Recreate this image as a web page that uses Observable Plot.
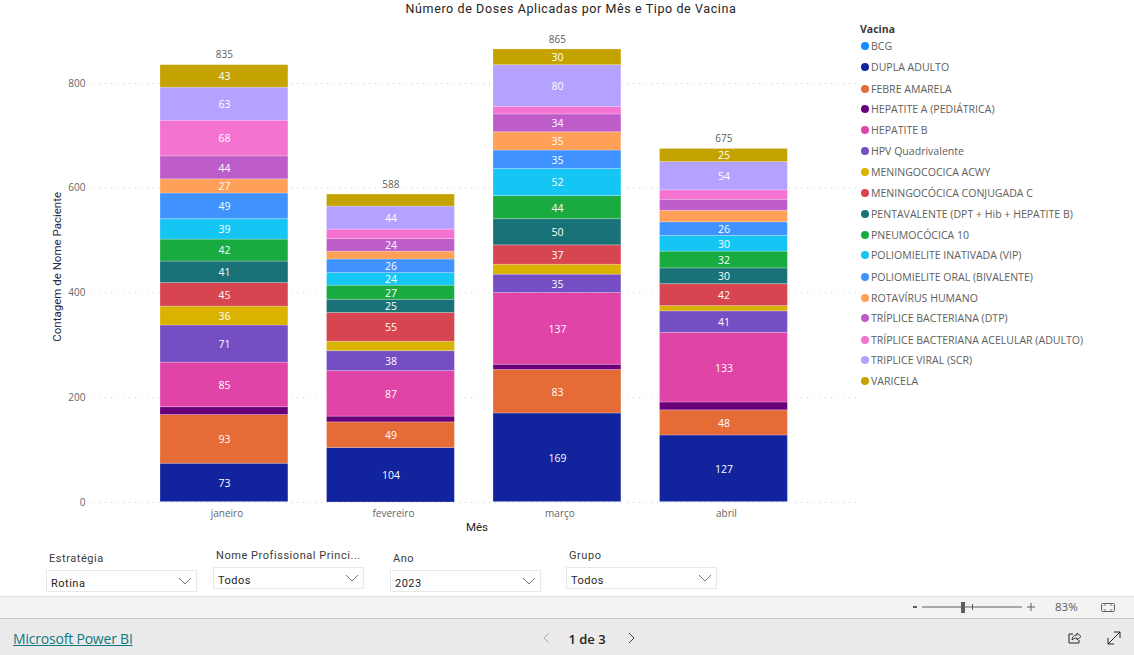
<!DOCTYPE html>
<html lang="pt">
<head>
<meta charset="utf-8">
<script src="https://cdn.jsdelivr.net/npm/d3@7"></script>
<script src="https://cdn.jsdelivr.net/npm/@observablehq/plot@0.6"></script>
<style>
html,body{margin:0;padding:0;background:#fff;width:1134px;height:655px;overflow:hidden;font-family:"Open Sans",sans-serif}
#root{position:relative;width:1134px;height:655px;overflow:hidden}
#root svg{position:absolute}
.abs{position:absolute;white-space:nowrap}
.din{font-family:Roboto,sans-serif;letter-spacing:.6px}
#title{left:0;width:1142px;text-align:center;top:1px;font-size:12.5px;line-height:16px;color:#252423}
.lg{left:871px;font-size:10.55px;line-height:14px;color:#605e5c}
.dot{position:absolute;width:8px;height:8px;border-radius:50%}
.slab{font-size:11px;line-height:14px;color:#3b3a39;letter-spacing:.55px}
.box{position:absolute;width:149px;height:20px;border:1px solid #e8e8e8;background:#fff;font-size:11px;line-height:26px;color:#252423;padding-left:0;letter-spacing:.5px}
.box span{position:absolute;left:4px;top:0}
.box svg{right:4px;top:6px}
#bar1{left:0;top:596px;width:1134px;height:21px;background:#f3f3f3;border-top:1px solid #e0e0e0;border-bottom:1px solid #c8c8c8}
#bar2{left:0;top:619px;width:1134px;height:36px;background:#eaeaea}
#link{left:13px;top:630px;font-size:14px;line-height:18px;font-weight:500;color:#117a80;text-decoration:underline;font-family:"Open Sans",sans-serif;letter-spacing:-.2px}
#page{left:547px;width:80px;text-align:center;top:630px;font-size:13px;line-height:18px;font-weight:600;color:#252423}
#pct{left:1055px;top:600px;font-size:11.5px;line-height:14px;color:#605e5c}
</style>
</head>
<body>
<div id="root"></div>
<script>
const months = ["janeiro", "fevereiro", "março", "abril"];
const totals = [835, 588, 865, 675];
const vaccines = ["BCG", "DUPLA ADULTO", "FEBRE AMARELA", "HEPATITE A (PEDIÁTRICA)", "HEPATITE B", "HPV Quadrivalente", "MENINGOCOCICA ACWY", "MENINGOCÓCICA CONJUGADA C", "PENTAVALENTE (DPT + Hib + HEPATITE B)", "PNEUMOCÓCICA 10", "POLIOMIELITE INATIVADA (VIP)", "POLIOMIELITE ORAL (BIVALENTE)", "ROTAVÍRUS HUMANO", "TRÍPLICE BACTERIANA (DTP)", "TRÍPLICE BACTERIANA ACELULAR (ADULTO)", "TRIPLICE VIRAL (SCR)", "VARICELA"];
const colors = ["#118dff", "#12239e", "#e66c37", "#6b007b", "#e044a7", "#744ec2", "#d9b300", "#d64550", "#197278", "#1aab40", "#15c6f4", "#4092ff", "#ffa058", "#be5dc9", "#f472d0", "#b5a1ff", "#c4a200"];
const bcg = [1, 0, 1, 1];
const duplaAdulto = [73, 104, 169, 127];
const febreAmarela = [93, 49, 83, 48];
const hepatiteA = [15, 11, 10, 15];
const hepatiteB = [85, 87, 137, 133];
const hpv = [71, 38, 35, 41];
const meningoAcwy = [36, 18, 19, 10];
const meningoC = [45, 55, 37, 42];
const pentavalente = [41, 25, 50, 30];
const pneumo10 = [42, 27, 44, 32];
const polioVip = [39, 24, 52, 30];
const polioOral = [49, 26, 35, 26];
const rotavirus = [27, 15, 35, 22];
const dtp = [44, 24, 34, 21];
const dtpa = [68, 18, 14, 18];
const scr = [63, 44, 80, 54];
const varicela = [43, 23, 30, 25];
const series = [bcg, duplaAdulto, febreAmarela, hepatiteA, hepatiteB, hpv, meningoAcwy, meningoC, pentavalente, pneumo10, polioVip, polioOral, rotavirus, dtp, dtpa, scr, varicela];
const yTicks = [0, 200, 400, 600, 800];
const labelMin = 24;

const rows = vaccines.flatMap((vacina, i) => months.map((mes, m) => ({mes, vacina, n: series[i][m]})));
const totalRows = months.map((mes, m) => ({mes, total: totals[m]}));

const chart = Plot.plot({
  width: 1134, height: 545,
  marginLeft: 93, marginRight: 276, marginTop: 40, marginBottom: 43,
  style: {fontFamily: '"Open Sans",sans-serif', background: "transparent", position: "absolute", left: 0, top: 0, overflow: "visible"},
  x: {type: "band", domain: months, range: [140.7, 806.7], paddingInner: 0.232, paddingOuter: 0.116, round: false},
  y: {domain: [0, 800], range: [502, 83]},
  color: {domain: vaccines, range: colors},
  marks: [
    Plot.ruleY(yTicks, {stroke: "#d0d0d0", strokeDasharray: "1 5", strokeWidth: 1}),
    Plot.barY(rows, Plot.stackY({x: "mes", y: "n", z: "vacina", fill: "vacina", order: vaccines, stroke: "#fff", strokeOpacity: 0.22, strokeWidth: 1})),
    Plot.text(rows, Plot.stackY({x: "mes", y: "n", z: "vacina", order: vaccines, text: d => d.n >= labelMin ? String(d.n) : "", fill: "#fff", fontSize: 10.5, fontWeight: 500, dy: 0.5})),
    Plot.text(totalRows, {x: "mes", y: "total", text: d => String(d.total), dy: -10, fill: "#605e5c", fontSize: 10}),
    Plot.axisY({ticks: yTicks, tickSize: 0, tickPadding: 0, dx: -8, fontSize: 10, color: "#666", label: null, tickFormat: d => String(d)}),
    Plot.axisX({tickSize: 0, tickPadding: 0, dy: 7, dx: 2.5, fontSize: 10, color: "#666", label: null}),
    Plot.text(["Contagem de Nome Paciente"], {frameAnchor: "left", dx: -36, y: 450, rotate: -90, fontSize: 11.5, fill: "#252a4a", fontFamily: "Roboto,sans-serif", textAnchor: "middle"}),
    Plot.text(["Mês"], {frameAnchor: "bottom", dy: 28, dx: 1, fontSize: 11.5, fill: "#252423", fontFamily: "Roboto,sans-serif"})
  ]
});

const root = document.getElementById("root");
root.appendChild(chart);

function el(cls, text, css) {
  const d = document.createElement("div");
  d.className = cls;
  if (text != null) d.textContent = text;
  Object.assign(d.style, css || {});
  root.appendChild(d);
  return d;
}
el("abs din", "Número de Doses Aplicadas por Mês e Tipo de Vacina", {}).id = "title";
el("abs", "Vacina", {left: "860px", top: "22px", fontSize: "10.5px", lineHeight: "14px", fontWeight: "700", color: "#3b3a39"});
const legendRowCentres = [46, 67, 89, 109, 130, 151, 172, 193, 214, 235, 255, 277, 298, 318, 340, 360, 381];
vaccines.forEach((v, i) => {
  const c = legendRowCentres[i];
  el("abs lg", v, {top: (c - 7) + "px"});
  el("dot", null, {left: "861px", top: (c - 4) + "px", background: colors[i]});
});

const chevron = '<svg width="14" height="8" viewBox="0 0 14 8"><path d="M1 1l6 6 6-6" fill="none" stroke="#777" stroke-width="1"/></svg>';
const slicers = [
  ["Estratégia", "Rotina", 46, 570, 49, 552],
  ["Nome Profissional Princi...", "Todos", 213, 567, 216, 549],
  ["Ano", "2023", 390, 570, 393, 552],
  ["Grupo", "Todos", 566, 567, 569, 549]
];
slicers.forEach(([lab, val, bx, by, lx, ly]) => {
  el("abs din slab", lab, {left: lx + "px", top: ly + "px"});
  const b = el("box din", null, {left: bx + "px", top: by + "px"});
  b.innerHTML = "<span>" + val + "</span>" + chevron;
});

el("abs", null, {}).id = "bar1";
el("abs", null, {}).id = "bar2";
el("abs", "Microsoft Power BI", {}).id = "link";
el("abs", "1 de 3", {}).id = "page";
el("abs", "83%", {}).id = "pct";

const chrome = document.createElementNS("http://www.w3.org/2000/svg", "svg");
chrome.setAttribute("width", 1134); chrome.setAttribute("height", 655);
chrome.style.cssText = "left:0;top:0;pointer-events:none";
chrome.innerHTML = `
<path d="M913 607h4" stroke="#605e5c" stroke-width="2"/>
<path d="M922 607h100" stroke="#605e5c"/>
<path d="M972.5 604v6" stroke="#605e5c"/>
<rect x="961" y="602" width="4" height="11" fill="#605e5c"/>
<path d="M1027 607h8M1031 603v8" stroke="#605e5c"/>
<rect x="1101.5" y="603.5" width="13" height="8" rx="1" fill="none" stroke="#605e5c"/>
<path d="M1104 606v-1h2M1112 606v-1h-2M1104 609v1h2M1112 609v1h-2" fill="none" stroke="#605e5c" stroke-width=".7"/>
<path d="M549 633l-5 5 5 5" fill="none" stroke="#b0b0b0"/>
<path d="M629 633l5 5-5 5" fill="none" stroke="#444"/>
<path d="M1073 634h-4v9h10v-3" fill="none" stroke="#252423"/>
<path d="M1072 640c0-3 2-5 5-5v-2l4 3.500-4 3.500v-2c-2 0-4 1-5 2z" fill="none" stroke="#252423" stroke-width=".9"/>
<path d="M1108 644l12-12M1114 632h6v6M1108 638v6h6" fill="none" stroke="#252423"/>`;
root.appendChild(chrome);
</script>
</body>
</html>
